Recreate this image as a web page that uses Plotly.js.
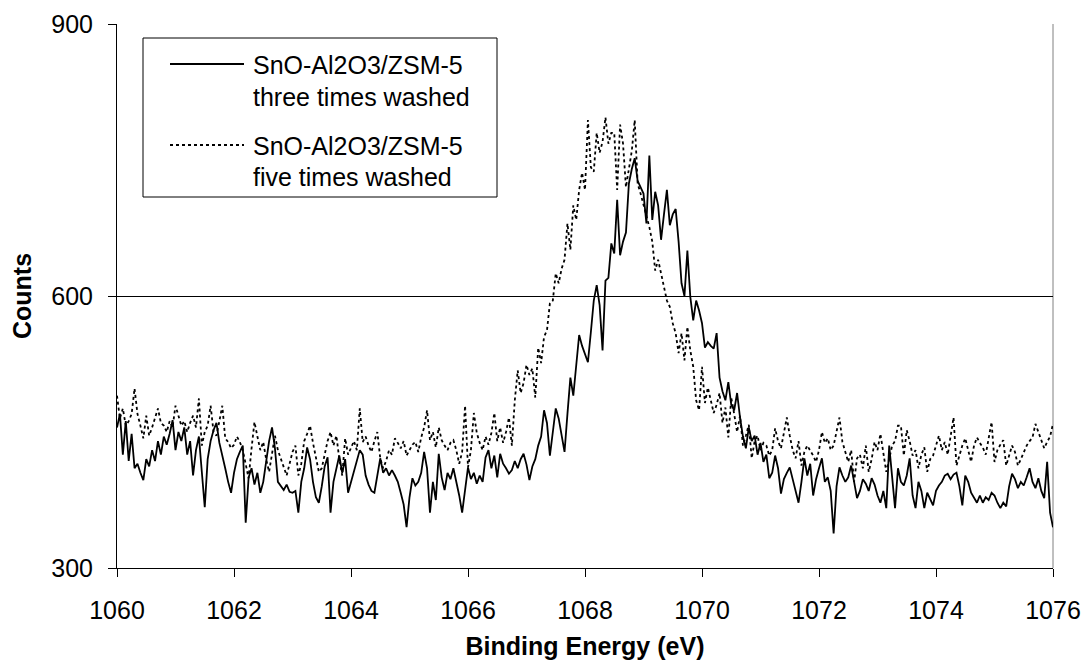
<!DOCTYPE html>
<html>
<head>
<meta charset="utf-8">
<script src="https://cdn.plot.ly/plotly-3.0.1.min.js"></script>
<style>html,body{margin:0;padding:0;background:#fff;}#chart{width:1085px;height:665px;}</style>
</head>
<body>
<div id="chart"></div>
<script>
// Binding energy sampling (eV)
const energyStart = 1060;
const energyStep = 0.05;

// SnO-Al2O3/ZSM-5 three times washed (counts), one row per eV (20 points each)
const threeTimesWashed = [
455,470,425,462,418,448,410,415,405,397,420,412,430,418,440,425,445,436,448,463,
430,450,440,455,425,440,402,430,445,410,367,420,440,452,460,438,425,410,395,383,
405,420,428,435,350,400,410,392,405,383,395,420,440,455,432,395,390,386,392,384,
383,385,361,395,410,433,420,395,378,372,390,412,422,361,395,410,424,405,420,383,
395,408,418,430,425,402,392,385,383,400,421,405,410,402,408,402,395,383,370,345,
378,399,391,395,405,428,410,361,395,375,426,400,386,405,398,410,395,380,361,385,
411,398,405,393,402,395,422,430,410,424,400,426,415,410,404,408,418,410,420,426,
414,397,412,420,435,445,474,460,424,450,476,465,445,428,470,510,490,525,557,545,
535,527,560,595,612,590,540,617,620,658,647,706,645,660,670,724,740,752,727,720,
713,680,755,684,715,700,662,690,717,678,690,696,660,614,600,650,599,573,595,584,
570,543,549,545,542,559,510,495,485,505,480,474,493,466,445,432,455,440,446,425,
438,417,425,399,405,424,410,382,398,405,411,398,385,372,395,421,402,415,380,398,
410,421,395,400,385,338,390,411,402,395,400,413,395,377,385,398,393,385,399,392,
380,372,385,366,435,400,366,410,395,391,402,421,380,366,395,385,366,383,375,369,
385,391,395,402,404,398,403,405,390,369,402,395,383,378,372,380,372,378,375,383,
380,372,366,372,368,390,404,398,388,395,391,400,410,395,388,399,385,377,417,361,
345
];

// SnO-Al2O3/ZSM-5 five times washed (counts), one row per eV (20 points each)
const fiveTimesWashed = [
490,465,476,457,462,470,498,470,457,443,468,446,455,465,476,460,457,450,462,455,
479,468,457,462,450,460,468,455,487,435,450,457,479,450,446,462,479,443,439,432,
436,445,439,430,415,399,432,461,445,430,439,420,406,425,446,430,421,410,402,415,
428,435,402,415,440,448,457,438,420,406,410,425,440,450,435,446,420,402,443,425,
432,440,430,476,439,445,435,428,440,450,421,410,418,430,425,443,438,432,440,424,
430,436,439,428,444,455,474,441,450,433,455,441,435,430,438,441,430,415,428,479,
411,430,471,449,438,430,445,436,449,471,440,455,438,450,466,435,485,518,493,504,
524,513,520,488,543,526,555,562,592,595,625,614,630,640,680,651,700,684,717,736,
717,794,742,737,780,758,770,797,768,780,780,717,789,768,720,742,760,794,724,713,
700,690,676,660,628,640,625,610,595,588,570,559,537,559,529,566,540,522,485,474,
522,482,499,485,471,480,493,460,477,444,488,470,450,468,435,446,458,421,440,446,
430,438,435,424,430,454,440,432,450,466,446,430,421,440,413,428,435,430,424,417,
430,450,438,443,430,435,450,466,439,428,417,430,395,421,425,410,435,406,420,439,
430,448,425,406,420,435,440,457,457,424,452,440,424,430,410,425,433,406,420,424,
435,446,430,439,425,445,466,413,424,435,443,430,417,435,444,438,433,425,445,461,
417,430,436,441,413,425,435,428,413,420,428,435,440,444,459,450,440,432,439,445,
459
];

const seriesLabels = [
  ["SnO-Al2O3/ZSM-5", "three times washed"],
  ["SnO-Al2O3/ZSM-5", "five times washed"]
];
const xTickVals = [1060, 1062, 1064, 1066, 1068, 1070, 1072, 1074, 1076];
const yTickVals = [300, 600, 900];
const xAxisTitle = "Binding Energy (eV)";
const yAxisTitle = "Counts";

const energyOf = arr => arr.map((_, i) => +(energyStart + i * energyStep).toFixed(2));

const FONT = "Liberation Sans, Arial, sans-serif";
const TEXT_SIZE = 25;

const traces = [
  {
    x: energyOf(threeTimesWashed), y: threeTimesWashed,
    type: "scatter", mode: "lines",
    name: seriesLabels[0].join(" "),
    line: {color: "#000000", width: 1.8},
    showlegend: false, hoverinfo: "skip"
  },
  {
    x: energyOf(fiveTimesWashed), y: fiveTimesWashed,
    type: "scatter", mode: "lines",
    name: seriesLabels[1].join(" "),
    line: {color: "#000000", width: 1.8, dash: "3px,3px"},
    showlegend: false, hoverinfo: "skip"
  }
];

// plot-area geometry (pixels) used for placing the hand-built legend box
const M = {l: 117, r: 32, t: 24, b: 97};
const W = 1085, H = 665;
const PW = W - M.l - M.r, PH = H - M.t - M.b;
const px = v => (v - M.l) / PW;
const py = v => (H - M.b - v) / PH;

const legendBox = {x0: 143, x1: 497, y0: 38, y1: 197};
const legendRows = [65, 97, 146, 177];

const shapes = [
  {type: "rect", xref: "paper", yref: "paper",
   x0: px(legendBox.x0), x1: px(legendBox.x1), y0: py(legendBox.y1), y1: py(legendBox.y0),
   line: {color: "#000000", width: 1}, fillcolor: "#ffffff", layer: "above"},
  {type: "line", xref: "paper", yref: "paper",
   x0: px(170), x1: px(244), y0: py(legendRows[0] - 1), y1: py(legendRows[0] - 1),
   line: {color: "#000000", width: 1.8}, layer: "above"},
  {type: "line", xref: "paper", yref: "paper",
   x0: px(170), x1: px(244), y0: py(legendRows[2] - 1), y1: py(legendRows[2] - 1),
   line: {color: "#000000", width: 1.8, dash: "3px,3px"}, layer: "above"},
  {type: "line", xref: "paper", yref: "paper",
   x0: 1, x1: 1, y0: 0, y1: 1,
   line: {color: "#808080", width: 1}, layer: "below"}
];

const annotations = [];
seriesLabels.forEach((lines, s) => {
  lines.forEach((t, k) => {
    annotations.push({
      xref: "paper", yref: "paper",
      x: px(251), y: py(legendRows[s * 2 + k]),
      xanchor: "left", yanchor: "middle",
      text: t, showarrow: false,
      font: {family: FONT, size: TEXT_SIZE, color: "#000000"}
    });
  });
});

const layout = {
  width: W, height: H,
  margin: M,
  paper_bgcolor: "#ffffff", plot_bgcolor: "#ffffff",
  font: {family: FONT, size: TEXT_SIZE, color: "#000000"},
  showlegend: false,
  xaxis: {
    range: [1060, 1076],
    tickmode: "array", tickvals: xTickVals,
    ticks: "outside", ticklen: 8, tickwidth: 1, tickcolor: "#000000",
    ticklabelstandoff: 12,
    showline: true, linecolor: "#000000", linewidth: 1,
    showgrid: false, zeroline: false,
    tickfont: {family: FONT, size: TEXT_SIZE, color: "#000000"},
    title: {text: xAxisTitle, standoff: 14,
            font: {family: FONT, size: TEXT_SIZE, color: "#000000", weight: "bold"}}
  },
  yaxis: {
    range: [300, 900],
    tickmode: "array", tickvals: yTickVals,
    ticks: "outside", ticklen: 8, tickwidth: 1, tickcolor: "#000000",
    ticklabelstandoff: 10,
    showline: true, linecolor: "#000000", linewidth: 1,
    showgrid: true, gridcolor: "#000000", gridwidth: 1,
    zeroline: false,
    tickfont: {family: FONT, size: TEXT_SIZE, color: "#000000"},
    title: {text: yAxisTitle, standoff: 12,
            font: {family: FONT, size: TEXT_SIZE, color: "#000000", weight: "bold"}}
  },
  shapes: shapes,
  annotations: annotations
};

Plotly.newPlot("chart", traces, layout, {staticPlot: true, displayModeBar: false});
</script>
</body>
</html>
